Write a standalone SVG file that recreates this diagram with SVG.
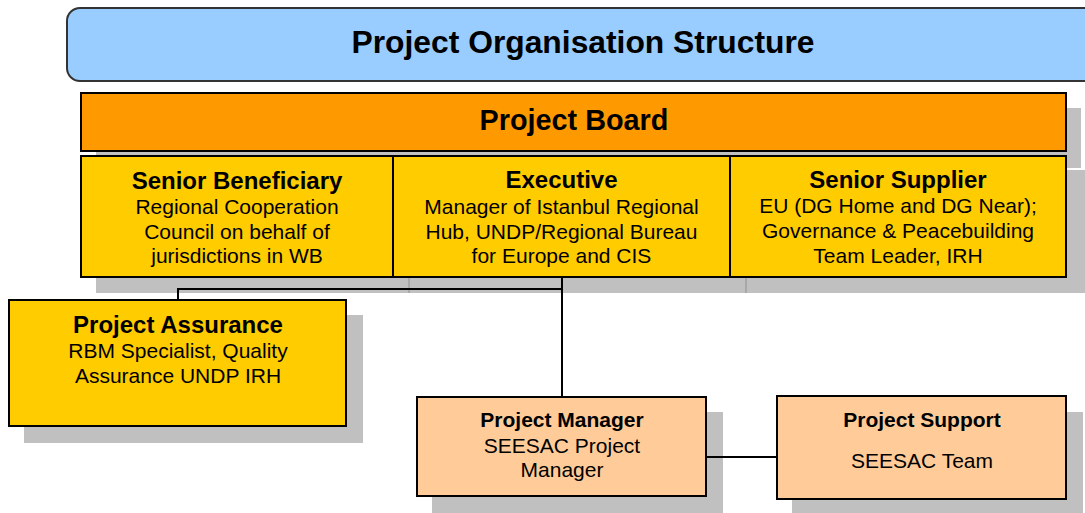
<svg xmlns="http://www.w3.org/2000/svg" width="1085" height="513" viewBox="0 0 1085 513">
<style>
.shadow{fill:#C0C0C0;stroke:none}
.shline{stroke:#A8A8A8;stroke-width:2;fill:none}
.box{stroke:#000;stroke-width:2}
.yellow{fill:#FFCC00}
.peach{fill:#FFCC99}
.hd{font-family:"Liberation Sans",Arial,sans-serif;font-weight:bold;font-size:24px;fill:#000;text-anchor:middle}
.bd{font-family:"Liberation Sans",Arial,sans-serif;font-size:21px;fill:#000;text-anchor:middle}
.hds{font-family:"Liberation Sans",Arial,sans-serif;font-weight:bold;font-size:21px;fill:#000;text-anchor:middle}
.conn{stroke:#000;stroke-width:2;fill:none}
</style>
<rect width="1085" height="513" fill="#FFFFFF"/>

<g id="shadows">
<rect class="shadow" x="96" y="108" width="985" height="60"/>
<rect class="shadow" x="96" y="170" width="989" height="123"/>
<line class="shline" x1="409" y1="170" x2="409" y2="293"/>
<line class="shline" x1="746" y1="170" x2="746" y2="293"/>
<rect class="shadow" x="24" y="315" width="339" height="128"/>
<rect class="shadow" x="432" y="412" width="291" height="101"/>
<rect class="shadow" x="792" y="412" width="291" height="101"/>
</g>

<g id="connectors">
<path class="conn" d="M178,300 V289 H562"/>
<path class="conn" d="M562,277 V396"/>
<path class="conn" d="M706,457 H777"/>
</g>

<g id="title">
<rect x="67" y="8" width="1040" height="73" rx="13" ry="13" fill="#99CCFF" stroke="#333333" stroke-width="2"/>
<text x="583" y="53" font-family="'Liberation Sans',Arial,sans-serif" font-weight="bold" font-size="31.8" text-anchor="middle" fill="#000">Project Organisation Structure</text>
</g>

<g id="project-board">
<rect x="81" y="93" width="985" height="58" fill="#FF9900" stroke="#000" stroke-width="2"/>
<text x="574" y="130" font-family="'Liberation Sans',Arial,sans-serif" font-weight="bold" font-size="28.8" text-anchor="middle" fill="#000">Project Board</text>
</g>

<g id="senior-beneficiary">
<rect class="box yellow" x="81" y="156" width="312" height="121"/>
<text class="hd" x="237" y="189">Senior Beneficiary</text>
<text class="bd" x="237" y="214">Regional Cooperation</text>
<text class="bd" x="237" y="239">Council on behalf of</text>
<text class="bd" x="237" y="263">jurisdictions in WB</text>
</g>

<g id="executive">
<rect class="box yellow" x="393" y="156" width="337" height="121"/>
<text class="hd" x="561.5" y="188">Executive</text>
<text class="bd" x="561.5" y="214">Manager of Istanbul Regional</text>
<text class="bd" x="561.5" y="239">Hub, UNDP/Regional Bureau</text>
<text class="bd" x="561.5" y="263">for Europe and CIS</text>
</g>

<g id="senior-supplier">
<rect class="box yellow" x="730" y="156" width="336" height="121"/>
<text class="hd" x="898" y="188">Senior Supplier</text>
<text class="bd" x="898" y="213">EU (DG Home and DG Near);</text>
<text class="bd" x="898" y="238">Governance &amp; Peacebuilding</text>
<text class="bd" x="898" y="263">Team Leader, IRH</text>
</g>

<g id="project-assurance">
<rect class="box yellow" x="9" y="300" width="337" height="126"/>
<text class="hd" x="178" y="333">Project Assurance</text>
<text class="bd" x="178" y="358">RBM Specialist, Quality</text>
<text class="bd" x="178" y="383">Assurance UNDP IRH</text>
</g>

<g id="project-manager">
<rect class="box peach" x="417" y="397" width="289" height="99"/>
<text class="hds" x="562" y="427">Project Manager</text>
<text class="bd" x="562" y="453">SEESAC Project</text>
<text class="bd" x="562" y="477">Manager</text>
</g>

<g id="project-support">
<rect class="box peach" x="777" y="396" width="289" height="103"/>
<text class="hds" x="922" y="427">Project Support</text>
<text class="bd" x="922" y="468">SEESAC Team</text>
</g>
</svg>
